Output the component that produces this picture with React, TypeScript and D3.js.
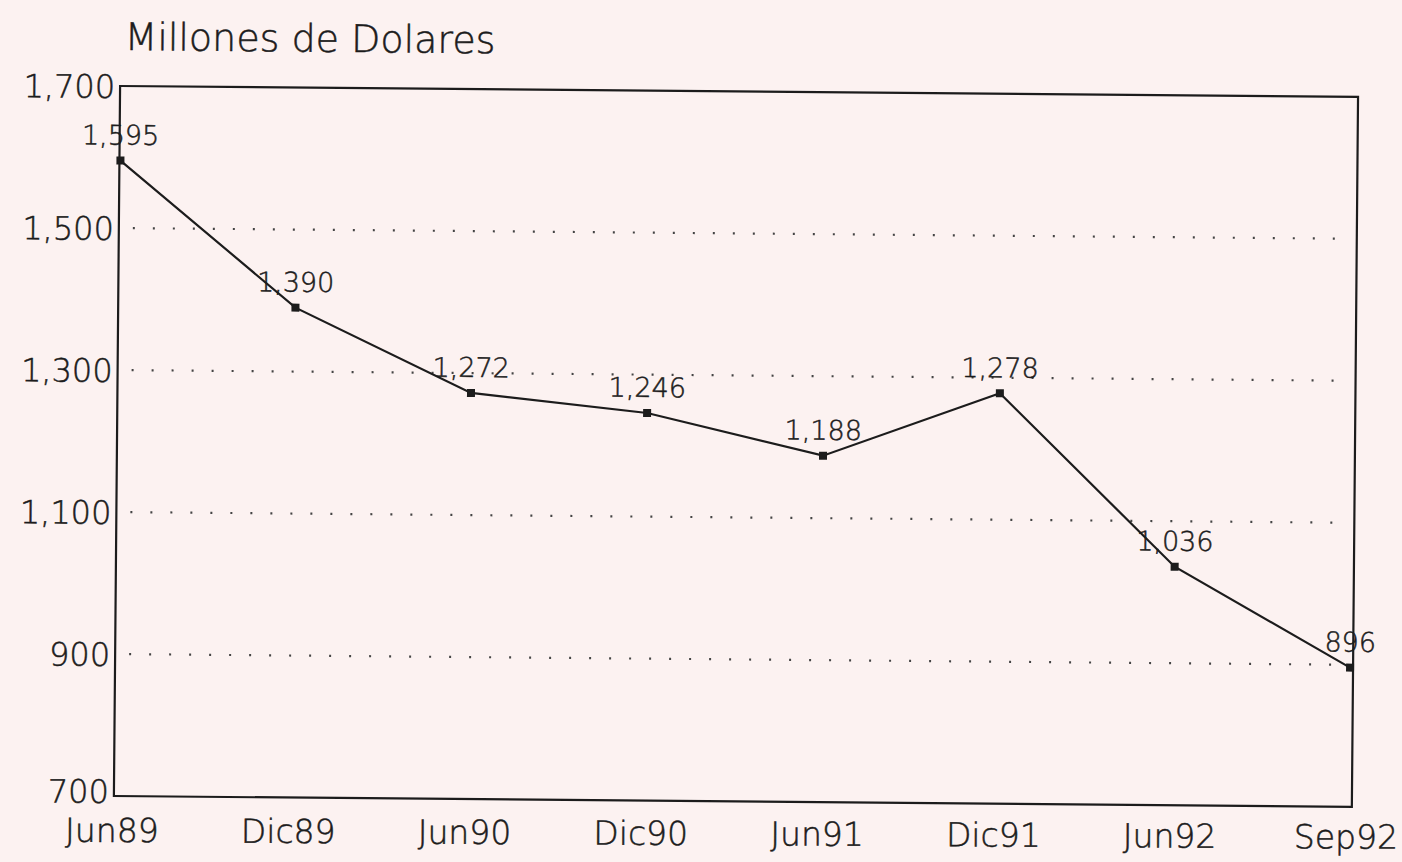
import React from "react";
import * as d3 from "d3";

const categories: string[] = ["Jun89", "Dic89", "Jun90", "Dic90", "Jun91", "Dic91", "Jun92", "Sep92"];
const values: number[] = [1595, 1390, 1272, 1246, 1188, 1278, 1036, 896];
const yTicks: number[] = [1700, 1500, 1300, 1100, 900, 700];
const gridTicks: number[] = [1500, 1300, 1100, 900];
const title = "Millones de Dolares";

const W = 1402;
const H = 862;
const left = 117;
const right = 1355;
const top = 86;
const bottom = 796;
const FONT = "'DejaVu Sans', 'Liberation Sans', sans-serif";
const INK = "#1c1c1c";

export default function App() {
  const x = d3.scalePoint<string>().domain(categories).range([left + 1, right - 3]).padding(0);
  const y = d3.scaleLinear().domain([700, 1700]).range([bottom, top]);
  const line = d3
    .line<number>()
    .x((_, i) => x(categories[i]) as number)
    .y((d) => y(d));
  const fmt = d3.format(",");
  const textStyle = { stroke: INK, strokeWidth: 0.5 };

  return (
    <svg
      width={W}
      height={H}
      style={{ position: "absolute", left: 0, top: 0, background: "#fcf2f1" }}
    >
      <rect x={0} y={0} width={W} height={H} fill="#fcf2f1" />
      <g transform={`rotate(0.5, ${left}, 440)`} fontFamily={FONT} fontWeight={200} fill={INK}>
        <text x={121} y={50} fontSize={38} fill={INK} style={textStyle}>
          {title}
        </text>
        {gridTicks.map((t) => (
          <line
            key={"g" + t}
            x1={left + 14}
            x2={right - 4}
            y1={y(t)}
            y2={y(t)}
            stroke="#444"
            strokeWidth={2.2}
            strokeDasharray="2 18"
          />
        ))}
        <rect
          x={left}
          y={top}
          width={right - left}
          height={bottom - top}
          fill="none"
          stroke={INK}
          strokeWidth={2.2}
        />
        {yTicks.map((t) => (
          <text
            key={"y" + t}
            x={left - 5}
            y={y(t) + (t === 700 ? 7 : 12)}
            fontSize={32}
            textAnchor="end"
            style={textStyle}
          >
            {fmt(t)}
          </text>
        ))}
        <path d={line(values) || ""} fill="none" stroke={INK} strokeWidth={2.2} />
        {values.map((v, i) => (
          <rect
            key={"m" + i}
            x={(x(categories[i]) as number) - 4}
            y={y(v) - 4}
            width={8}
            height={8}
            fill={INK}
          />
        ))}
        {values.map((v, i) => (
          <text
            key={"l" + i}
            x={x(categories[i]) as number}
            y={y(v) - 16}
            fontSize={27}
            textAnchor="middle"
            style={textStyle}
          >
            {fmt(v)}
          </text>
        ))}
      </g>
      <g transform={`rotate(0.3, ${left}, 440)`} fontFamily={FONT} fontWeight={200} fill={INK}>
        {categories.map((c) => (
          <text
            key={"x" + c}
            x={(x(c) as number) - 4}
            y={bottom + 46}
            fontSize={33}
            textAnchor="middle"
            style={textStyle}
          >
            {c}
          </text>
        ))}
      </g>
    </svg>
  );
}
